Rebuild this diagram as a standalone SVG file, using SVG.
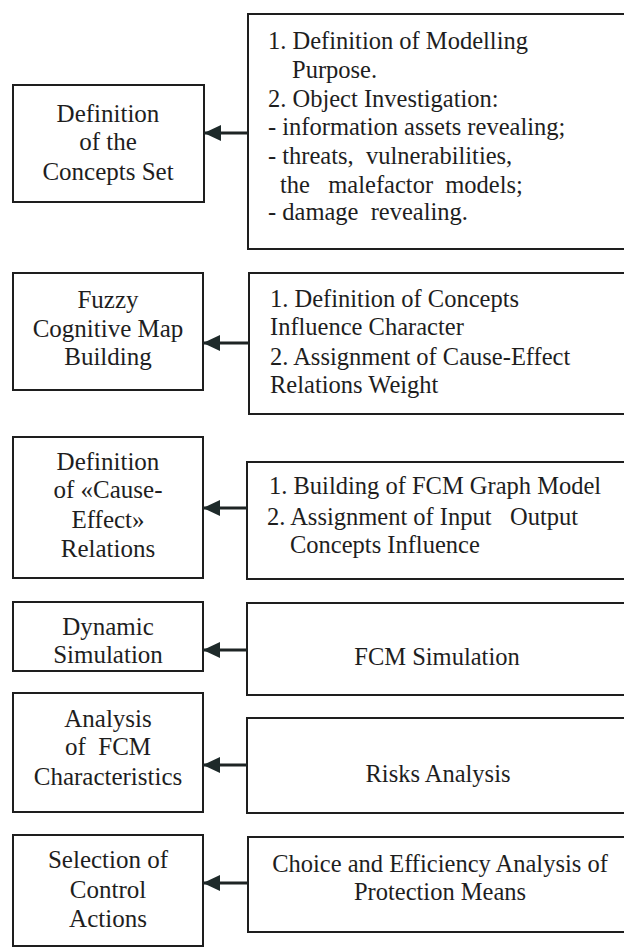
<svg xmlns="http://www.w3.org/2000/svg" width="624" height="950" viewBox="0 0 624 950">
<defs>
<style>
.box{fill:#fff;stroke:#1e1e1e;stroke-width:2}
.lt{font-family:"Liberation Serif","Times New Roman",serif;font-size:25px;fill:#1e1e1e;text-anchor:middle}
.rt{font-family:"Liberation Serif","Times New Roman",serif;font-size:24.5px;fill:#1e1e1e}
.rc{text-anchor:middle}
.conn{stroke:#1e2424;stroke-width:3;fill:none}
</style>
<marker id="ah" markerUnits="userSpaceOnUse" markerWidth="18" markerHeight="16" refX="17" refY="8" orient="auto">
<path d="M0,0 L17,8 L0,16 Z" fill="#1e2a2a"/>
</marker>
</defs>
<rect width="624" height="950" fill="#fff"/>

<g id="n1"><rect class="box" x="13" y="85" width="191" height="117"/>
<text class="lt" x="108" y="122">Definition</text>
<text class="lt" x="108" y="150">of the</text>
<text class="lt" x="108" y="180">Concepts Set</text></g>

<g id="r1"><rect class="box" x="248" y="14" width="390" height="235"/>
<text class="rt" x="268" y="49">1. Definition of  Modelling</text>
<text class="rt" x="292" y="78">Purpose.</text>
<text class="rt" x="268" y="107">2. Object Investigation:</text>
<text class="rt" x="268" y="135">- information assets revealing;</text>
<text class="rt" x="268" y="164" xml:space="preserve">- threats,  vulnerabilities,</text>
<text class="rt" x="280" y="193" xml:space="preserve">the   malefactor  models;</text>
<text class="rt" x="268" y="220" xml:space="preserve">- damage  revealing.</text></g>

<g id="n2"><rect class="box" x="13" y="273" width="190" height="117"/>
<text class="lt" x="108" y="308">Fuzzy</text>
<text class="lt" x="108" y="337">Cognitive Map</text>
<text class="lt" x="108" y="365">Building</text></g>

<g id="r2"><rect class="box" x="249" y="273" width="390" height="141"/>
<text class="rt" x="270" y="307">1. Definition of Concepts</text>
<text class="rt" x="270" y="335">Influence Character</text>
<text class="rt" x="270" y="365">2. Assignment of Cause-Effect</text>
<text class="rt" x="270" y="393">Relations Weight</text></g>

<g id="n3"><rect class="box" x="13" y="437" width="190" height="141"/>
<text class="lt" x="108" y="470">Definition</text>
<text class="lt" x="108" y="498">of «Cause-</text>
<text class="lt" x="108" y="528">Effect»</text>
<text class="lt" x="108" y="557">Relations</text></g>

<g id="r3"><rect class="box" x="247" y="462" width="390" height="117"/>
<text class="rt" x="269" y="494">1. Building of FCM Graph Model</text>
<text class="rt" x="267" y="525" xml:space="preserve">2. Assignment of Input   Output</text>
<text class="rt" x="290" y="553">Concepts Influence</text></g>

<g id="n4"><rect class="box" x="13" y="602" width="190" height="69"/>
<text class="lt" x="108" y="635">Dynamic</text>
<text class="lt" x="108" y="663">Simulation</text></g>

<g id="r4"><rect class="box" x="247" y="603" width="390" height="92"/>
<text class="rt rc" x="437" y="665">FCM Simulation</text></g>

<g id="n5"><rect class="box" x="13" y="693" width="190" height="119"/>
<text class="lt" x="108" y="727">Analysis</text>
<text class="lt" x="108" y="755" xml:space="preserve">of  FCM</text>
<text class="lt" x="108" y="785">Characteristics</text></g>

<g id="r5"><rect class="box" x="247" y="718" width="390" height="95"/>
<text class="rt rc" x="438" y="782">Risks Analysis</text></g>

<g id="n6"><rect class="box" x="13" y="835" width="190" height="111"/>
<text class="lt" x="108" y="868">Selection of</text>
<text class="lt" x="108" y="898">Control</text>
<text class="lt" x="108" y="927">Actions</text></g>

<g id="r6"><rect class="box" x="248" y="837" width="390" height="95"/>
<text class="rt rc" x="440" y="872">Choice and Efficiency Analysis of</text>
<text class="rt rc" x="440" y="900">Protection Means</text></g>

<g id="connectors">
<line class="conn" x1="248" y1="133" x2="204" y2="133" marker-end="url(#ah)"/>
<line class="conn" x1="249" y1="343" x2="203" y2="343" marker-end="url(#ah)"/>
<line class="conn" x1="247" y1="508" x2="203" y2="508" marker-end="url(#ah)"/>
<line class="conn" x1="247" y1="650" x2="203" y2="650" marker-end="url(#ah)"/>
<line class="conn" x1="247" y1="765" x2="203" y2="765" marker-end="url(#ah)"/>
<line class="conn" x1="248" y1="883" x2="203" y2="883" marker-end="url(#ah)"/>
</g>
</svg>
